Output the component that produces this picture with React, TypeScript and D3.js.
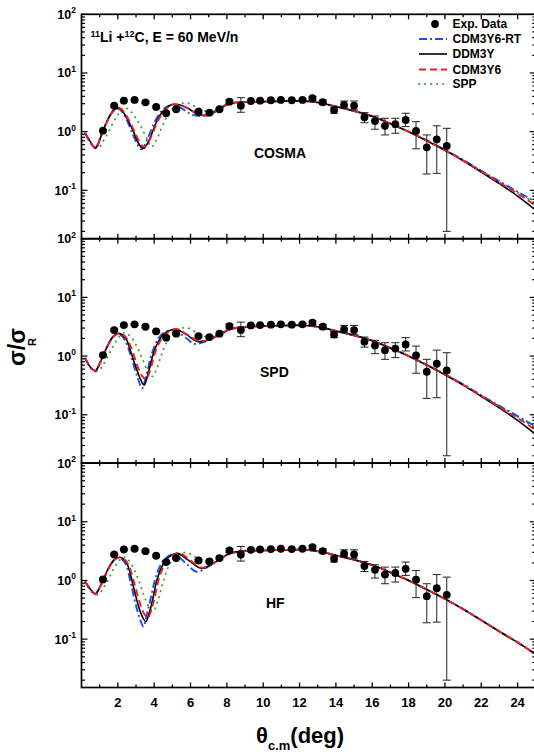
import React, { useEffect, useRef } from "react";
import * as d3 from "d3";

// experimental points (same in all three panels)
const expTheta = [1.18, 1.8, 2.33, 2.92, 3.52, 4.11, 4.66, 5.21, 6.44, 7.04, 7.59, 8.14, 8.77, 9.32, 9.83, 10.42, 10.97, 11.57, 12.16, 12.71, 13.28, 13.9, 14.45, 15.0, 15.57, 16.15, 16.7, 17.27, 17.84, 18.41, 19.0, 19.55, 20.1];
const expValue = [1.04, 2.77, 3.37, 3.47, 3.16, 2.64, 2.06, 2.41, 2.19, 2.11, 2.41, 3.24, 2.77, 3.33, 3.37, 3.43, 3.47, 3.43, 3.47, 3.71, 3.17, 2.34, 2.85, 2.77, 1.76, 1.52, 1.26, 1.34, 1.58, 1.03, 0.54, 0.74, 0.57];
const expHigh = [1.08, 2.88, 3.5, 3.6, 3.28, 2.74, 2.14, 2.5, 2.28, 2.2, 2.5, 3.5, 3.79, 3.46, 3.5, 3.56, 3.6, 3.56, 3.6, 3.95, 3.45, 2.61, 3.33, 3.33, 2.11, 1.85, 1.69, 1.69, 2.06, 1.48, 0.88, 1.26, 1.14];
const expLow = [1.0, 2.66, 3.24, 3.34, 3.04, 2.54, 1.98, 2.32, 2.1, 2.02, 2.32, 3.0, 2.14, 3.2, 3.24, 3.3, 3.34, 3.3, 3.34, 3.4, 2.9, 2.06, 2.51, 2.34, 1.42, 1.1, 0.88, 0.94, 1.22, 0.51, 0.19, 0.195, 0.02];

// large-angle tails of the calculations
const tailDDM3Y = [[10, 3.25], [11, 3.3], [12, 3.35], [13, 3.15], [14, 2.68], [15, 2.25], [16, 1.83], [17, 1.37], [18, 1.0], [19, 0.7], [20, 0.48], [21, 0.32], [22, 0.205], [23, 0.13], [24, 0.08], [25, 0.046]];
const tailCDM3Y6RT = [[10, 3.25], [11, 3.3], [12, 3.35], [13, 3.15], [14, 2.68], [15, 2.25], [16, 1.83], [17, 1.37], [18, 1.0], [19, 0.71], [20, 0.49], [21, 0.33], [22, 0.215], [23, 0.142], [24, 0.095], [25, 0.063]];
const tailCDM3Y6 = [[10, 3.25], [11, 3.3], [12, 3.35], [13, 3.15], [14, 2.68], [15, 2.25], [16, 1.83], [17, 1.37], [18, 1.0], [19, 0.7], [20, 0.485], [21, 0.325], [22, 0.21], [23, 0.135], [24, 0.088], [25, 0.055]];
const tailSPP = [[10, 3.25], [11, 3.3], [12, 3.33], [13, 3.15], [14, 2.68], [15, 2.25], [16, 1.83], [17, 1.37], [18, 1.0], [19, 0.71], [20, 0.49], [21, 0.33], [22, 0.213], [23, 0.14], [24, 0.092], [25, 0.06]];
const tailHF = [[10, 3.25], [11, 3.3], [12, 3.35], [13, 3.15], [14, 2.68], [15, 2.25], [16, 1.83], [17, 1.37], [18, 1.0], [19, 0.7], [20, 0.485], [21, 0.325], [22, 0.21], [23, 0.135], [24, 0.088], [25, 0.055]];

// COSMA
const cosmaDDM3Y = [[0.2, 0.94], [0.48, 0.68], [0.76, 0.53], [1.03, 0.77], [1.18, 1.04], [1.49, 1.69], [1.76, 2.34], [2.04, 2.56], [2.5, 1.69], [2.86, 1.0], [3.1, 0.66], [3.41, 0.52], [3.77, 0.77], [4.05, 1.3], [4.33, 1.93], [4.7, 2.57], [5.06, 2.93], [5.8, 2.57], [6.16, 2.19], [6.8, 1.87], [7.63, 2.44], [8.18, 3.05], [9, 3.2]];
const cosmaCDM3Y6RT = [[0.2, 0.94], [0.48, 0.67], [0.76, 0.52], [1.03, 0.78], [1.18, 1.04], [1.49, 1.7], [1.76, 2.3], [2.0, 2.45], [2.45, 1.7], [2.76, 1.0], [3.0, 0.68], [3.3, 0.5], [3.65, 0.78], [3.95, 1.3], [4.25, 1.95], [4.6, 2.55], [5.0, 2.85], [5.6, 2.4], [6.0, 2.0], [6.5, 1.85], [7.4, 2.3], [8.1, 3.0], [9, 3.15]];
const cosmaCDM3Y6 = [[0.2, 0.94], [0.48, 0.66], [0.78, 0.52], [1.05, 0.78], [1.2, 1.04], [1.5, 1.7], [1.8, 2.3], [2.08, 2.5], [2.55, 1.7], [2.92, 1.0], [3.15, 0.7], [3.45, 0.55], [3.82, 0.8], [4.1, 1.3], [4.4, 1.95], [4.75, 2.6], [5.12, 2.95], [5.8, 2.55], [6.2, 2.15], [6.8, 1.9], [7.6, 2.45], [8.2, 3.05], [9, 3.2]];
const cosmaSPP = [[0.2, 0.94], [0.5, 0.65], [0.9, 0.52], [1.2, 0.7], [1.45, 0.95], [1.7, 1.35], [1.98, 1.9], [2.35, 2.55], [2.75, 2.15], [3.05, 1.6], [3.35, 1.1], [3.6, 0.75], [3.85, 0.55], [4.15, 0.75], [4.4, 1.15], [4.65, 1.7], [4.95, 2.35], [5.35, 2.9], [5.75, 3.1], [6.3, 2.65], [7.1, 2.15], [7.8, 2.7], [8.5, 3.15], [9, 3.2]];

// SPD
const spdDDM3Y = [[0.2, 0.92], [0.48, 0.65], [0.75, 0.56], [1.0, 0.75], [1.18, 1.0], [1.5, 1.65], [1.76, 2.2], [2.04, 2.44], [2.5, 1.85], [2.68, 1.27], [3.05, 0.58], [3.25, 0.4], [3.45, 0.32], [3.67, 0.51], [3.96, 1.12], [4.33, 2.0], [4.7, 2.6], [5.15, 2.86], [5.8, 2.3], [6.44, 1.76], [7.0, 1.9], [7.6, 2.35], [8.2, 2.9], [9, 3.15]];
const spdCDM3Y6RT = [[0.2, 0.92], [0.48, 0.64], [0.75, 0.55], [1.0, 0.75], [1.18, 1.0], [1.5, 1.65], [1.76, 2.18], [2.0, 2.4], [2.42, 1.8], [2.6, 1.3], [2.95, 0.58], [3.15, 0.38], [3.33, 0.28], [3.55, 0.45], [3.85, 1.05], [4.2, 1.95], [4.6, 2.55], [5.05, 2.75], [5.7, 2.1], [6.25, 1.61], [6.9, 1.8], [7.6, 2.3], [8.3, 2.9], [9, 3.1]];
const spdCDM3Y6 = [[0.2, 0.92], [0.48, 0.65], [0.78, 0.56], [1.02, 0.76], [1.2, 1.0], [1.52, 1.65], [1.8, 2.2], [2.1, 2.42], [2.55, 1.85], [2.75, 1.35], [3.1, 0.65], [3.35, 0.45], [3.55, 0.4], [3.78, 0.58], [4.05, 1.15], [4.42, 2.0], [4.8, 2.6], [5.2, 2.9], [5.85, 2.3], [6.5, 1.8], [7.1, 1.95], [7.7, 2.45], [8.3, 2.95], [9, 3.15]];
const spdSPP = [[0.2, 0.92], [0.5, 0.64], [0.9, 0.55], [1.2, 0.72], [1.45, 0.98], [1.7, 1.4], [1.98, 1.95], [2.35, 2.5], [2.75, 2.05], [3.05, 1.45], [3.35, 0.9], [3.65, 0.55], [3.9, 0.45], [4.15, 0.62], [4.4, 1.05], [4.65, 1.65], [4.95, 2.3], [5.35, 2.85], [5.75, 3.05], [6.3, 2.55], [7.1, 2.05], [7.8, 2.65], [8.5, 3.1], [9, 3.15]];

// HF
const hfDDM3Y = [[0.2, 0.95], [0.5, 0.7], [0.75, 0.59], [1.0, 0.76], [1.18, 1.0], [1.5, 1.65], [1.8, 2.25], [2.09, 2.48], [2.5, 1.96], [2.86, 0.78], [3.14, 0.36], [3.35, 0.24], [3.54, 0.2], [3.7, 0.26], [3.87, 0.41], [4.15, 1.02], [4.51, 1.96], [4.88, 2.6], [5.25, 2.9], [5.9, 2.2], [6.62, 1.61], [7.3, 2.0], [8.0, 2.75], [9, 3.2]];
const hfCDM3Y6RT = [[0.2, 0.95], [0.5, 0.69], [0.75, 0.58], [1.0, 0.76], [1.18, 1.0], [1.5, 1.65], [1.78, 2.2], [2.02, 2.42], [2.42, 1.95], [2.75, 0.8], [3.02, 0.35], [3.22, 0.22], [3.41, 0.163], [3.58, 0.25], [3.78, 0.45], [4.05, 1.05], [4.4, 1.95], [4.75, 2.55], [5.1, 2.8], [5.75, 1.95], [6.35, 1.41], [7.0, 1.75], [7.7, 2.4], [8.4, 3.0], [9, 3.15]];
const hfCDM3Y6 = [[0.2, 0.95], [0.5, 0.7], [0.78, 0.59], [1.02, 0.77], [1.2, 1.0], [1.52, 1.65], [1.82, 2.25], [2.12, 2.47], [2.55, 1.95], [2.95, 0.8], [3.25, 0.38], [3.45, 0.27], [3.65, 0.23], [3.82, 0.3], [3.98, 0.45], [4.25, 1.05], [4.6, 1.95], [4.95, 2.6], [5.32, 2.95], [5.95, 2.25], [6.6, 1.65], [7.3, 2.0], [8.0, 2.75], [9, 3.2]];
const hfSPP = [[0.2, 0.95], [0.5, 0.68], [0.9, 0.57], [1.2, 0.74], [1.45, 1.0], [1.7, 1.45], [1.98, 2.0], [2.35, 2.5], [2.75, 1.9], [3.1, 1.1], [3.4, 0.6], [3.7, 0.36], [3.95, 0.3], [4.2, 0.45], [4.45, 0.85], [4.7, 1.5], [5.0, 2.25], [5.35, 2.8], [5.75, 3.0], [6.3, 2.5], [7.1, 2.0], [7.8, 2.6], [8.5, 3.1], [9, 3.2]];

const panelLabels = ["COSMA", "SPD", "HF"];
const modelNames = ["CDM3Y6-RT", "DDM3Y", "CDM3Y6", "SPP"];
const xTicks = [2, 4, 6, 8, 10, 12, 14, 16, 18, 20, 22, 24];
const yTickExp = [2, 1, 0, -1];

const FONT = "'Liberation Sans', Arial, sans-serif";

const styles = {
  "CDM3Y6-RT": { color: "#1f4fe8", dash: "8,3,2,3", width: 1.9 },
  DDM3Y: { color: "#000", dash: null, width: 1.6 },
  CDM3Y6: { color: "#ee1c1c", dash: "7,4", width: 1.9 },
  SPP: { color: "#38a038", dash: "0.3,5.7", width: 1.9 },
};

const App = () => {
  const ref = useRef(null);

  useEffect(() => {
    const svg = d3.select(ref.current);
    svg.selectAll("*").remove();

    const left = 81.5, right = 535.8;
    const top0 = 14.3, ph = 224.4;
    const x = d3.scaleLinear().domain([0, 25]).range([left, right]);

    const panels = [
      { label: panelLabels[0], curves: { "CDM3Y6-RT": cosmaCDM3Y6RT.concat(tailCDM3Y6RT), DDM3Y: cosmaDDM3Y.concat(tailDDM3Y), CDM3Y6: cosmaCDM3Y6.concat(tailCDM3Y6), SPP: cosmaSPP.concat(tailSPP) } },
      { label: panelLabels[1], curves: { "CDM3Y6-RT": spdCDM3Y6RT.concat(tailCDM3Y6RT), DDM3Y: spdDDM3Y.concat(tailDDM3Y), CDM3Y6: spdCDM3Y6.concat(tailCDM3Y6), SPP: spdSPP.concat(tailSPP) } },
      { label: panelLabels[2], curves: { "CDM3Y6-RT": hfCDM3Y6RT.concat(tailHF), DDM3Y: hfDDM3Y.concat(tailHF), CDM3Y6: hfCDM3Y6.concat(tailHF), SPP: hfSPP.concat(tailHF) } },
    ];
    const labelPos = [[254, 158], [260, 377], [266, 608]];
    const drawOrder = ["SPP", "CDM3Y6-RT", "DDM3Y", "CDM3Y6"];

    panels.forEach((p, i) => {
      const top = top0 + i * ph;
      const bottom = top + ph;
      const y = d3.scaleLog().domain([0.015, 100]).range([bottom, top]);
      const g = svg.append("g");

      svg.append("clipPath").attr("id", `clip${i}`)
        .append("rect").attr("x", left).attr("y", top).attr("width", right - left).attr("height", ph);

      // curves
      const line = d3.line().x(d => x(d[0])).y(d => y(d[1])).curve(d3.curveMonotoneX);
      drawOrder.forEach(name => {
        const s = styles[name];
        g.append("path")
          .attr("d", line(p.curves[name]))
          .attr("clip-path", `url(#clip${i})`)
          .attr("fill", "none")
          .attr("stroke", s.color)
          .attr("stroke-width", s.width)
          .attr("stroke-dasharray", s.dash)
          .attr("stroke-linecap", name === "SPP" ? "round" : "butt");
      });

      // error bars
      expTheta.forEach((t, k) => {
        const cx = x(t);
        g.append("line").attr("x1", cx).attr("x2", cx)
          .attr("y1", y(expHigh[k])).attr("y2", y(expLow[k]))
          .attr("stroke", "#222").attr("stroke-width", 1);
        [expHigh[k], expLow[k]].forEach(v => {
          g.append("line").attr("x1", cx - 4).attr("x2", cx + 4)
            .attr("y1", y(v)).attr("y2", y(v))
            .attr("stroke", "#222").attr("stroke-width", 1);
        });
      });
      g.selectAll(".pt").data(expTheta).enter().append("circle")
        .attr("cx", d => x(d)).attr("cy", (d, k) => y(expValue[k]))
        .attr("r", 3.9).attr("fill", "#000");

      // frame
      g.append("rect").attr("x", left).attr("y", top).attr("width", right - left).attr("height", ph)
        .attr("fill", "none").attr("stroke", "#000").attr("stroke-width", 1.7);

      // x ticks (inward, top and bottom)
      d3.range(1, 25).forEach(t => {
        const len = t % 2 === 0 ? 5 : 3;
        g.append("line").attr("x1", x(t)).attr("x2", x(t)).attr("y1", bottom).attr("y2", bottom - len)
          .attr("stroke", "#000").attr("stroke-width", 1.3);
        g.append("line").attr("x1", x(t)).attr("x2", x(t)).attr("y1", top).attr("y2", top + len)
          .attr("stroke", "#000").attr("stroke-width", 1.3);
      });

      // y ticks (inward, left and right)
      const minor = [];
      [-2, -1, 0, 1].forEach(e => d3.range(1, 10).forEach(m => {
        const v = m * Math.pow(10, e);
        if (v >= 0.015 && v <= 100) minor.push([v, m === 1]);
      }));
      minor.push([100, true]);
      minor.forEach(([v, major]) => {
        const len = major ? 6 : 3.5;
        g.append("line").attr("x1", left).attr("x2", left + len).attr("y1", y(v)).attr("y2", y(v))
          .attr("stroke", "#000").attr("stroke-width", 1.2);
        g.append("line").attr("x1", right).attr("x2", right - len).attr("y1", y(v)).attr("y2", y(v))
          .attr("stroke", "#000").attr("stroke-width", 1.2);
      });

      // y labels
      yTickExp.forEach(e => {
        const t = g.append("text").attr("x", 76).attr("y", y(Math.pow(10, e)) + 4.5)
          .attr("text-anchor", "end").attr("font-family", FONT).attr("font-weight", "bold").attr("font-size", 12.5);
        t.append("tspan").text("10");
        t.append("tspan").attr("font-size", 8.5).attr("dy", -5.5).text(String(e));
      });

      g.append("text").attr("x", labelPos[i][0]).attr("y", labelPos[i][1])
        .attr("font-family", FONT).attr("font-weight", "bold").attr("font-size", 14).text(p.label);

      if (i === 2) {
        xTicks.forEach(t => {
          g.append("text").attr("x", x(t)).attr("y", 707).attr("text-anchor", "middle")
            .attr("font-family", FONT).attr("font-weight", "bold").attr("font-size", 13).text(t);
        });
      }
    });

    // title
    const title = svg.append("text").attr("x", 90.5).attr("y", 42)
      .attr("font-family", FONT).attr("font-weight", "bold").attr("font-size", 14);
    title.append("tspan").attr("font-size", 9).attr("dy", -5.5).text("11");
    title.append("tspan").attr("dy", 5.5).text("Li +");
    title.append("tspan").attr("font-size", 9).attr("dy", -5.5).text("12");
    title.append("tspan").attr("dy", 5.5).text("C, E = 60 MeV/n");

    // legend
    const lg = svg.append("g");
    lg.append("circle").attr("cx", 435).attr("cy", 24).attr("r", 3.9).attr("fill", "#000");
    lg.append("text").attr("x", 452.5).attr("y", 28.3).attr("font-family", FONT).attr("font-weight", "bold")
      .attr("font-size", 12).text("Exp. Data");
    const rowY = [39, 54, 69.5, 84];
    modelNames.forEach((name, k) => {
      const s = styles[name];
      lg.append("line").attr("x1", 419).attr("x2", 447).attr("y1", rowY[k]).attr("y2", rowY[k])
        .attr("stroke", s.color).attr("stroke-width", s.width).attr("stroke-dasharray", s.dash)
        .attr("stroke-linecap", name === "SPP" ? "round" : "butt");
      lg.append("text").attr("x", 452.5).attr("y", rowY[k] + 4.3).attr("font-family", FONT)
        .attr("font-weight", "bold").attr("font-size", 12).text(name);
    });

    // axis titles
    svg.append("text").attr("transform", "translate(25,347) rotate(-90)")
      .attr("text-anchor", "middle").attr("font-family", FONT).attr("font-weight", "bold").attr("font-size", 23)
      .text("σ/σ");
    svg.append("text").attr("transform", "translate(36,342) rotate(-90)")
      .attr("text-anchor", "middle").attr("font-family", FONT).attr("font-weight", "bold").attr("font-size", 11)
      .text("R");

    const xl = svg.append("text").attr("x", 256).attr("y", 743)
      .attr("font-family", FONT).attr("font-weight", "bold").attr("font-size", 22);
    xl.append("tspan").text("θ");
    xl.append("tspan").attr("font-size", 13).attr("dy", 7).text("c.m");
    xl.append("tspan").attr("dy", -7).text("(deg)");
  }, []);

  return (
    <svg ref={ref} width={534} height={754}
      style={{ position: "absolute", left: 0, top: 0, background: "#fff" }} />
  );
};

export default App;
